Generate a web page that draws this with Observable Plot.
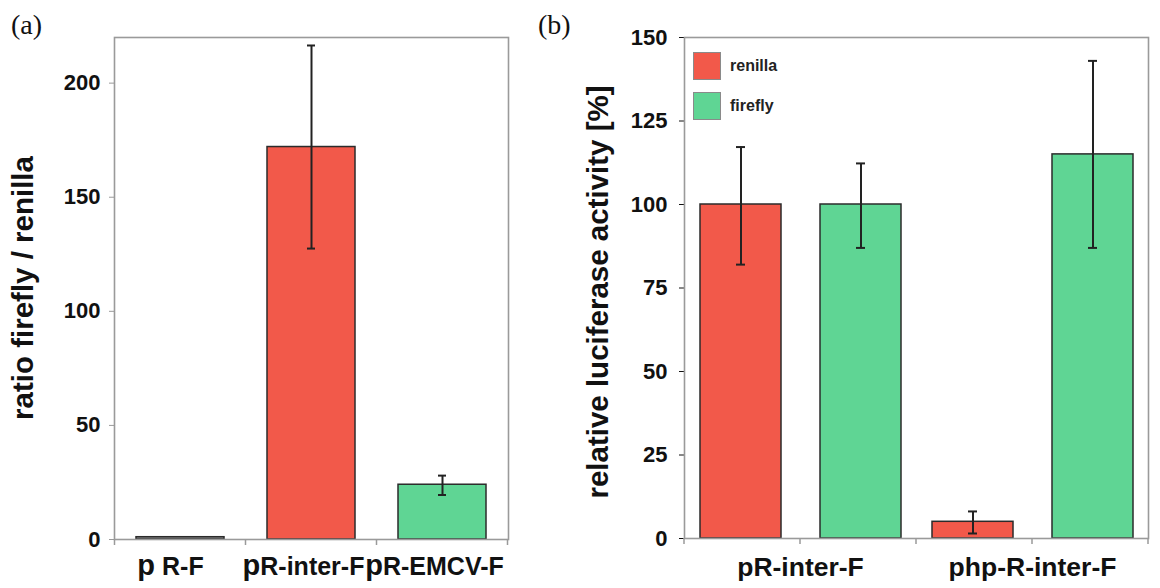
<!DOCTYPE html>
<html>
<head>
<meta charset="utf-8">
<script src="https://cdn.jsdelivr.net/npm/d3@7"></script>
<script src="https://cdn.jsdelivr.net/npm/@observablehq/plot@0.6"></script>
<style>
  html, body { margin: 0; padding: 0; background: #fff; }
  #wrap { position: relative; width: 1160px; height: 588px; overflow: hidden; font-family: "Liberation Sans", Arial, sans-serif; }
  .panel { position: absolute; top: 0; }
  .tag { position: absolute; font-family: "Liberation Serif", "Times New Roman", serif; font-size: 28px; color: #111; line-height: 1; }
  .ytitle { position: absolute; transform: translate(-50%, -50%) rotate(-90deg); white-space: nowrap; font-weight: bold; font-size: 29.5px; color: #111; }
  .legend { position: absolute; left: 693px; top: 52px; font-weight: bold; font-size: 16px; color: #222; }
  .legend .row { display: flex; align-items: center; height: 28px; margin-bottom: 12px; }
  .legend .sw { width: 28px; height: 28px; box-sizing: border-box; border: 1px solid #8a8a8a; margin-right: 9px; }
  g[aria-label="y-axis tick"] { stroke: #9a9a9a; }
  g[aria-label="fx-axis tick label"] { font-size: 26.5px; }
</style>
</head>
<body>
<div id="wrap">
  <div class="tag" style="left:11px; top:11px;">(a)</div>
  <div class="tag" style="left:538px; top:11px;">(b)</div>
  <div class="panel" id="pa" style="left:0px;"></div>
  <div class="panel" id="pb" style="left:540px;"></div>
  <div class="ytitle" style="left:23px; top:288px;">ratio firefly / renilla</div>
  <div class="ytitle" style="left:598px; top:292px;">relative luciferase activity [%]</div>
  <div class="legend" id="legend"></div>
</div>
<script>
// ---- Panel (a) data ----
const catsA = ["pR-F", "pR-inter-F", "pR-EMCV-F"];
const ratioA = [1, 172, 24];
const errLoA = [null, 127.5, 19.5];
const errHiA = [null, 216.5, 28];
const colorsA = ["#8a8a8a", "#F2594A", "#5FD594"];
const ticksA = [0, 50, 100, 150, 200];

// ---- Panel (b) data ----
const groupsB = ["pR-inter-F", "pR-inter-F", "php-R-inter-F", "php-R-inter-F"];
const seriesB = ["renilla", "firefly", "renilla", "firefly"];
const activityB = [100, 100, 5, 115];
const errLoB = [82, 87, 1.5, 87];
const errHiB = [117.2, 112.3, 8.1, 143];
const groupOrderB = ["pR-inter-F", "php-R-inter-F"];
const seriesOrderB = ["renilla", "firefly"];
const seriesColorsB = ["#F2594A", "#5FD594"];
const ticksB = [0, 25, 50, 75, 100, 125, 150];

const dataA = catsA.map((c, i) => ({cat: c, value: ratioA[i], lo: errLoA[i], hi: errHiA[i], color: colorsA[i]}));
const dataB = groupsB.map((g, i) => ({group: g, series: seriesB[i], value: activityB[i], lo: errLoB[i], hi: errHiB[i]}));
const errA = dataA.filter(d => d.lo != null);

const baseStyle = {fontFamily: "'Liberation Sans', Arial, sans-serif", fontSize: "22px", fontWeight: "bold", color: "#111", background: "transparent", overflow: "visible"};

const chartA = Plot.plot({
  width: 540, height: 588,
  marginLeft: 114, marginRight: 32, marginTop: 37, marginBottom: 49,
  style: baseStyle,
  x: {domain: catsA, paddingInner: 0.33, paddingOuter: 0.165, tickSize: 0, tickPadding: 20, label: null},
  y: {domain: [0, 220], ticks: ticksA, tickSize: 5, tickPadding: 9, label: null},
  marks: [
    Plot.barY(dataA, {x: "cat", y: "value", fill: "color", stroke: "#2b2b2b", strokeWidth: 1.5}),
    Plot.ruleX(errA, {x: "cat", y1: "lo", y2: "hi", stroke: "#222", strokeWidth: 2}),
    Plot.tickY(errA, {x: "cat", y: "hi", stroke: "#222", strokeWidth: 2, insetLeft: 40, insetRight: 40}),
    Plot.tickY(errA, {x: "cat", y: "lo", stroke: "#222", strokeWidth: 2, insetLeft: 40, insetRight: 40}),
    Plot.frame({stroke: "#9a9a9a", strokeWidth: 1.6})
  ]
});
document.getElementById("pa").appendChild(chartA);

// larger "p" prefix in panel (a) labels
d3.select(chartA).selectAll('g[aria-label="x-axis tick label"] text').each(function (_, i) {
  const t = this.textContent;
  const sel = d3.select(this);
  sel.text(null).attr("dx", i === 0 ? -10 : -8);
  sel.append("tspan").attr("font-size", 29).text(t[0]);
  const rest = sel.append("tspan").attr("font-size", 25).text(t.slice(1));
  if (i === 0) rest.attr("dx", 7);
});

// boundary ticks for panel (a)
{
  const sx = chartA.scale("x"), sy = chartA.scale("y");
  const step = sx.step, bw = sx.bandwidth;
  const pos = catsA.map(c => sx.apply(c) - (step - bw) / 2);
  pos.push(sx.apply(catsA[catsA.length - 1]) + bw + (step - bw) / 2);
  const y0 = sy.apply(0);
  d3.select(chartA).append("g").selectAll("line").data(pos).join("line")
    .attr("x1", d => d).attr("x2", d => d).attr("y1", y0).attr("y2", y0 + 6)
    .attr("stroke", "#9a9a9a").attr("stroke-width", 1.5);
}

const chartB = Plot.plot({
  width: 620, height: 588,
  marginLeft: 143, marginRight: 12, marginTop: 37, marginBottom: 50,
  style: baseStyle,
  fx: {domain: groupOrderB, padding: 0, label: null, tickSize: 0, tickPadding: 19, axis: "bottom"},
  x: {domain: seriesOrderB, paddingInner: 0.325, paddingOuter: 0.125, axis: null},
  y: {domain: [0, 150], ticks: ticksB, tickSize: 5, tickPadding: 12, label: null},
  color: {domain: seriesOrderB, range: seriesColorsB},
  marks: [
    Plot.barY(dataB, {fx: "group", x: "series", y: "value", fill: "series", stroke: "#2b2b2b", strokeWidth: 1.5}),
    Plot.ruleX(dataB, {fx: "group", x: "series", y1: "lo", y2: "hi", stroke: "#222", strokeWidth: 2}),
    Plot.tickY(dataB, {fx: "group", x: "series", y: "hi", stroke: "#222", strokeWidth: 2, insetLeft: 36, insetRight: 36}),
    Plot.tickY(dataB, {fx: "group", x: "series", y: "lo", stroke: "#222", strokeWidth: 2, insetLeft: 36, insetRight: 36}),
    Plot.frame({facet: "super", stroke: "#9a9a9a", strokeWidth: 1.6})
  ]
});
document.getElementById("pb").appendChild(chartB);

// facet boundary & centre ticks for panel (b)
{
  const sfx = chartB.scale("fx"), sy = chartB.scale("y");
  const bw = sfx.bandwidth;
  const pos = [];
  groupOrderB.forEach((g, i) => {
    const s = sfx.apply(g);
    pos.push(s, s + bw / 2);
    if (i === groupOrderB.length - 1) pos.push(s + bw);
  });
  const y0 = sy.apply(0);
  d3.select(chartB).append("g").selectAll("line").data(pos).join("line")
    .attr("x1", d => d).attr("x2", d => d).attr("y1", y0).attr("y2", y0 + 6)
    .attr("stroke", "#9a9a9a").attr("stroke-width", 1.5);
}

// legend
const legend = d3.select("#legend");
seriesOrderB.forEach((s, i) => {
  const row = legend.append("div").attr("class", "row");
  row.append("div").attr("class", "sw").style("background", seriesColorsB[i]);
  row.append("span").text(s);
});
</script>
</body>
</html>
